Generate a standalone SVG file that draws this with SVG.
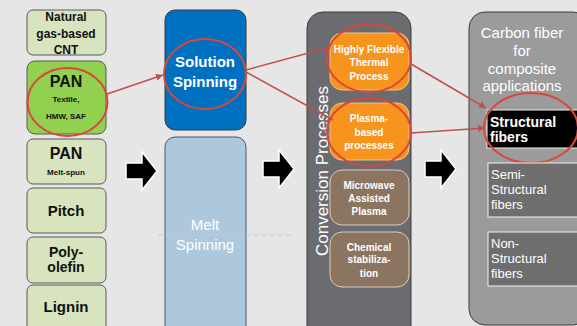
<svg xmlns="http://www.w3.org/2000/svg" width="577" height="326" viewBox="0 0 577 326">
<defs>
<style>
text{font-family:"Liberation Sans",Arial,sans-serif;text-anchor:middle}
.lg{fill:#d7e4bd;stroke:#595959;stroke-width:1}
.dk{fill:#111}
.w{fill:#fff}
.st{text-anchor:start}
.ell{fill:none;stroke:#d9473b;stroke-width:2}
.con{stroke:#c0504d;stroke-width:1.5;fill:none}
</style>
<marker id="ah" markerWidth="8" markerHeight="8" refX="7" refY="4" orient="auto" markerUnits="userSpaceOnUse">
<path d="M0,0.5 L7,4 L0,7.5 z" fill="#c0504d"/>
</marker>
<path id="barrow" d="M0,11 H16 V0 L31,19 L16,38 V27 H0 z" fill="#000" stroke="#fff" stroke-width="1.5" stroke-linejoin="miter"/>
</defs>
<rect width="577" height="326" fill="#e6e6e6"/>

<!-- column 1 -->
<g id="natural">
<rect class="lg" x="27" y="10" width="79" height="45" rx="6"/>
<text class="dk" x="66" y="21" font-size="12" font-weight="bold">Natural</text>
<text class="dk" x="66" y="38" font-size="12" font-weight="bold">gas-based</text>
<text class="dk" x="66" y="54" font-size="12" font-weight="bold">CNT</text>
</g>
<g id="pan-textile">
<rect x="27" y="61" width="79" height="73" rx="8" fill="#92d050" stroke="#595959"/>
<text class="dk" x="66" y="87" font-size="16" font-weight="bold">PAN</text>
<text class="dk" x="66" y="102" font-size="8" font-weight="bold">Textile,</text>
<text class="dk" x="66" y="119" font-size="8" font-weight="bold">HMW, SAF</text>
<ellipse class="ell" cx="67.5" cy="102" rx="40" ry="34"/>
</g>
<g id="pan-melt">
<rect class="lg" x="27" y="139" width="79" height="45" rx="6"/>
<text class="dk" x="66" y="159" font-size="16" font-weight="bold">PAN</text>
<text class="dk" x="66" y="175" font-size="8" font-weight="bold">Melt-spun</text>
</g>
<g id="pitch">
<rect class="lg" x="27" y="188" width="79" height="45" rx="6"/>
<text class="dk" x="66" y="216" font-size="15" font-weight="bold">Pitch</text>
</g>
<g id="polyolefin">
<rect class="lg" x="27" y="237" width="79" height="46" rx="6"/>
<text class="dk" x="66" y="257" font-size="14" font-weight="bold">Poly-</text>
<text class="dk" x="66" y="272" font-size="14" font-weight="bold">olefin</text>
</g>
<g id="lignin">
<rect class="lg" x="27" y="285" width="79" height="50" rx="6"/>
<text class="dk" x="66" y="312" font-size="15" font-weight="bold">Lignin</text>
</g>

<!-- column 2 -->
<g id="solution-spinning">
<rect x="165" y="10" width="81" height="120" rx="10" fill="#0070c0" stroke="#3a3a3a"/>
<text class="w" x="205" y="67" font-size="15" font-weight="bold">Solution</text>
<text class="w" x="205" y="87" font-size="15" font-weight="bold">Spinning</text>
<ellipse class="ell" cx="205" cy="74" rx="41" ry="35"/>
</g>
<g id="melt-spinning">
<rect x="165" y="137" width="81" height="200" rx="10" fill="#adc8dd" stroke="#4a5a66"/>
<text class="w" x="205" y="230" font-size="15">Melt</text>
<text class="w" x="205" y="250" font-size="15">Spinning</text>
</g>
<line x1="158" y1="235" x2="292" y2="235" stroke="#c4ccd2" stroke-width="1" stroke-dasharray="5,3"/>

<!-- column 3 -->
<g id="conversion">
<rect x="307" y="12" width="104" height="330" rx="16" fill="#6b6c70" stroke="#3c3c3c"/>
<text class="w" x="0" y="0" font-size="17" transform="translate(328,171) rotate(-90)">Conversion Processes</text>
</g>
<g id="thermal">
<rect x="330" y="33" width="79" height="57" rx="12" fill="#f7941d" stroke="#f3c08a"/>
<text class="w" x="369" y="53" font-size="10" font-weight="bold">Highly Flexible</text>
<text class="w" x="369" y="66" font-size="10" font-weight="bold">Thermal</text>
<text class="w" x="369" y="80" font-size="10" font-weight="bold">Process</text>
<ellipse class="ell" cx="369" cy="58" rx="42" ry="34"/>
</g>
<g id="plasma">
<rect x="330" y="103" width="79" height="57" rx="12" fill="#f7941d" stroke="#f3c08a"/>
<text class="w" x="369" y="122" font-size="10" font-weight="bold">Plasma-</text>
<text class="w" x="369" y="136" font-size="10" font-weight="bold">based</text>
<text class="w" x="369" y="149" font-size="10" font-weight="bold">processes</text>
<ellipse class="ell" cx="369" cy="132" rx="42" ry="34"/>
</g>
<g id="microwave">
<rect x="330" y="170" width="79" height="55" rx="12" fill="#8c7560" stroke="#d9cbbd"/>
<text class="w" x="369" y="189" font-size="10" font-weight="bold">Microwave</text>
<text class="w" x="369" y="202" font-size="10" font-weight="bold">Assisted</text>
<text class="w" x="369" y="215" font-size="10" font-weight="bold">Plasma</text>
</g>
<g id="chemical">
<rect x="330" y="232" width="79" height="55" rx="12" fill="#8c7560" stroke="#d9cbbd"/>
<text class="w" x="369" y="251" font-size="10" font-weight="bold">Chemical</text>
<text class="w" x="369" y="263" font-size="10" font-weight="bold">stabiliza-</text>
<text class="w" x="369" y="277" font-size="10" font-weight="bold">tion</text>
</g>

<!-- column 4 -->
<g id="carbon-fiber">
<rect x="469" y="12" width="120" height="313" rx="16" fill="#9b9b9b" stroke="#3c3c3c"/>
<text class="w" x="522" y="38" font-size="15">Carbon fiber</text>
<text class="w" x="522" y="56" font-size="15">for</text>
<text class="w" x="522" y="74" font-size="15">composite</text>
<text class="w" x="522" y="91" font-size="15">applications</text>
</g>
<g id="structural">
<rect x="487" y="110" width="95" height="38" fill="#000" stroke="#f2f2f2"/>
<text class="w st" x="490" y="127" font-size="14" font-weight="bold">Structural</text>
<text class="w st" x="490" y="142" font-size="14" font-weight="bold">fibers</text>
<ellipse class="ell" cx="531" cy="128" rx="47" ry="35"/>
</g>
<g id="semi-structural">
<rect x="488" y="163" width="94" height="54" fill="#6e6e6e" stroke="#f2f2f2"/>
<text class="w st" x="491" y="179" font-size="13">Semi-</text>
<text class="w st" x="491" y="194" font-size="13">Structural</text>
<text class="w st" x="491" y="209" font-size="13">fibers</text>
</g>
<g id="non-structural">
<rect x="488" y="232" width="94" height="54" fill="#6e6e6e" stroke="#f2f2f2"/>
<text class="w st" x="491" y="248" font-size="13">Non-</text>
<text class="w st" x="491" y="263" font-size="13">Structural</text>
<text class="w st" x="491" y="278" font-size="13">fibers</text>
</g>

<!-- connectors -->
<g id="connectors">
<line class="con" x1="107" y1="94" x2="163" y2="75" marker-end="url(#ah)"/>
<line class="con" x1="246" y1="70" x2="327" y2="48"/>
<line class="con" x1="246" y1="72" x2="333" y2="120"/>
<line class="con" x1="411" y1="64" x2="486" y2="108" marker-end="url(#ah)"/>
<line class="con" x1="411" y1="133" x2="485" y2="128" marker-end="url(#ah)"/>
<use href="#barrow" x="126" y="152"/>
<use href="#barrow" x="263" y="150"/>
<use href="#barrow" x="425" y="150"/>
</g>
</svg>
